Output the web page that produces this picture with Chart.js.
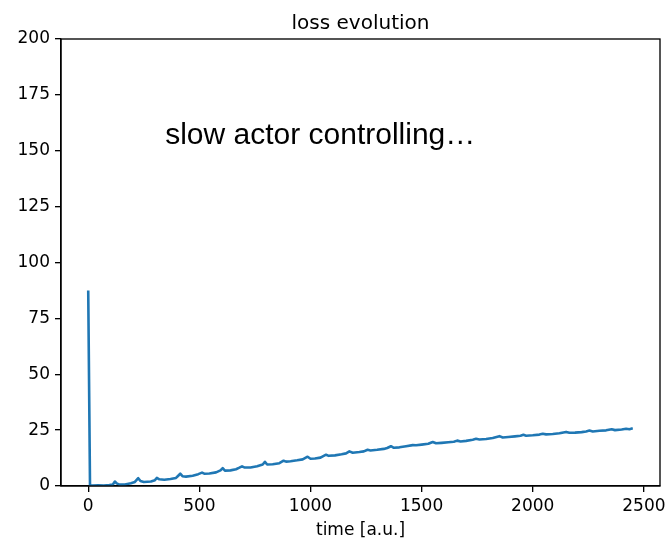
<!DOCTYPE html>
<html>
<head>
<meta charset="utf-8">
<script src="https://cdn.jsdelivr.net/npm/chart.js@4.4.1/dist/chart.umd.min.js"></script>
<style>
  html, body { margin: 0; padding: 0; background: #ffffff; }
  #wrap { width: 670px; height: 540px; }
</style>
</head>
<body>
<div id="wrap"><canvas id="c" width="670" height="540"></canvas></div>
<script>
// Loss trace over time (arbitrary units)
const timeValues = [
  0, 8, 20, 45, 70, 95, 110, 120, 128, 140, 165, 192, 210, 225, 235, 250, 282, 300, 309,
  320, 342, 370, 395, 405, 414, 424, 440, 470, 495, 512, 522, 545, 575, 595, 605, 615, 640,
  665, 680, 692, 702, 730, 760, 785, 795, 805, 830, 860, 879, 890, 910, 940, 965, 987, 1000,
  1020, 1045, 1070, 1082, 1110, 1140, 1160, 1175, 1190, 1220, 1240, 1257, 1270, 1300, 1330,
  1345, 1362, 1375, 1400, 1430, 1460, 1475, 1500, 1530, 1550, 1565, 1590, 1620, 1645, 1660,
  1675, 1700, 1730, 1745, 1760, 1790, 1820, 1850, 1865, 1890, 1920, 1945, 1958, 1970, 2000,
  2030, 2045, 2060, 2090, 2120, 2150, 2165, 2190, 2220, 2240, 2255, 2270, 2300, 2330, 2355,
  2370, 2400, 2420, 2435, 2450
];
const lossValues = [
  87.5, 0.3, 0.2, 0.3, 0.2, 0.4, 0.6, 2.0, 1.2, 0.6, 0.7, 1.2, 1.8, 3.5, 2.2, 1.8, 2.0, 2.6, 3.6,
  3.0, 2.8, 3.1, 3.6, 4.6, 5.5, 4.4, 4.2, 4.6, 5.3, 6.0, 5.5, 5.6, 6.1, 7.0, 8.0, 6.9, 7.0,
  7.5, 8.2, 8.8, 8.3, 8.3, 8.8, 9.6, 10.8, 9.6, 9.7, 10.2, 11.3, 10.9, 11.1, 11.5, 11.9, 13.1, 12.2,
  12.3, 12.7, 14.0, 13.5, 13.7, 14.2, 14.6, 15.5, 14.9, 15.2, 15.5, 16.2, 15.9, 16.2, 16.6,
  17.0, 17.8, 17.1, 17.3, 17.8, 18.3, 18.2, 18.5, 18.9, 19.7, 19.1, 19.3, 19.6, 19.8, 20.3,
  19.9, 20.2, 20.7, 21.1, 20.8, 21.0, 21.5, 22.3, 21.7, 21.9, 22.2, 22.5, 22.9, 22.5, 22.7,
  23.0, 23.4, 23.1, 23.3, 23.6, 24.2, 23.8, 23.9, 24.1, 24.4, 24.8, 24.4, 24.7, 24.9, 25.4,
  25.0, 25.3, 25.6, 25.4, 25.8
];
const xTickValues = [0, 500, 1000, 1500, 2000, 2500];
const yTickValues = [0, 25, 50, 75, 100, 125, 150, 175, 200];

const chartTitle = 'loss evolution';
const xAxisTitle = 'time [a.u.]';
const noteText = 'slow actor controlling…';
const noteAnchor = { x: 346, y: 153 };

const points = timeValues.map((t, i) => ({ x: t, y: lossValues[i] }));

const tickFont = { family: 'DejaVu Sans', size: 17 };

// Frame, titles and the in-axes note
const decorations = {
  id: 'decorations',
  afterDraw(chart) {
    const { ctx, chartArea: a, scales } = chart;
    const cx = (a.left + a.right) / 2;
    ctx.save();
    ctx.strokeStyle = '#000';
    ctx.lineWidth = 1.33;
    ctx.strokeRect(a.left, a.top, a.right - a.left, a.bottom - a.top);

    ctx.fillStyle = '#000';
    ctx.textBaseline = 'alphabetic';
    ctx.textAlign = 'center';
    ctx.font = '20px "DejaVu Sans"';
    ctx.fillText(chartTitle, cx, a.top - 10);

    ctx.font = '17px "DejaVu Sans"';
    ctx.fillText(xAxisTitle, cx, a.bottom + 49);

    ctx.font = '30px "Liberation Sans"';
    ctx.textAlign = 'left';
    ctx.fillText(noteText, scales.x.getPixelForValue(noteAnchor.x), scales.y.getPixelForValue(noteAnchor.y));
    ctx.restore();
  }
};

new Chart(document.getElementById('c'), {
  type: 'line',
  data: {
    datasets: [{
      data: points,
      borderColor: '#1f77b4',
      borderWidth: 2.6,
      borderJoinStyle: 'round',
      borderCapStyle: 'butt',
      pointRadius: 0,
      tension: 0,
      fill: false
    }]
  },
  options: {
    responsive: false,
    animation: false,
    events: [],
    layout: { padding: { top: 39, right: 10, left: 0, bottom: 0 } },
    plugins: { legend: { display: false }, tooltip: { enabled: false }, title: { display: false } },
    scales: {
      x: {
        type: 'linear',
        min: -122.5,
        max: 2572.5,
        afterFit(s) { s.height = 54; },
        afterBuildTicks(s) { s.ticks = xTickValues.map(v => ({ value: v })); },
        grid: { drawOnChartArea: false, drawTicks: true, tickLength: 6, color: '#000', lineWidth: 1.33 },
        border: { display: true, color: '#000', width: 1.33 },
        ticks: { color: '#000', font: tickFont, padding: 4, maxRotation: 0, autoSkip: false,
                 callback: v => String(v) },
        title: { display: false }
      },
      y: {
        type: 'linear',
        min: 0,
        max: 200,
        afterFit(s) { s.width = 61; },
        afterBuildTicks(s) { s.ticks = yTickValues.map(v => ({ value: v })); },
        grid: { drawOnChartArea: false, drawTicks: true, tickLength: 6, color: '#000', lineWidth: 1.33 },
        border: { display: true, color: '#000', width: 1.33 },
        ticks: { color: '#000', font: tickFont, padding: 5, autoSkip: false,
                 callback: v => String(v) }
      }
    }
  },
  plugins: [decorations]
});
</script>
</body>
</html>
